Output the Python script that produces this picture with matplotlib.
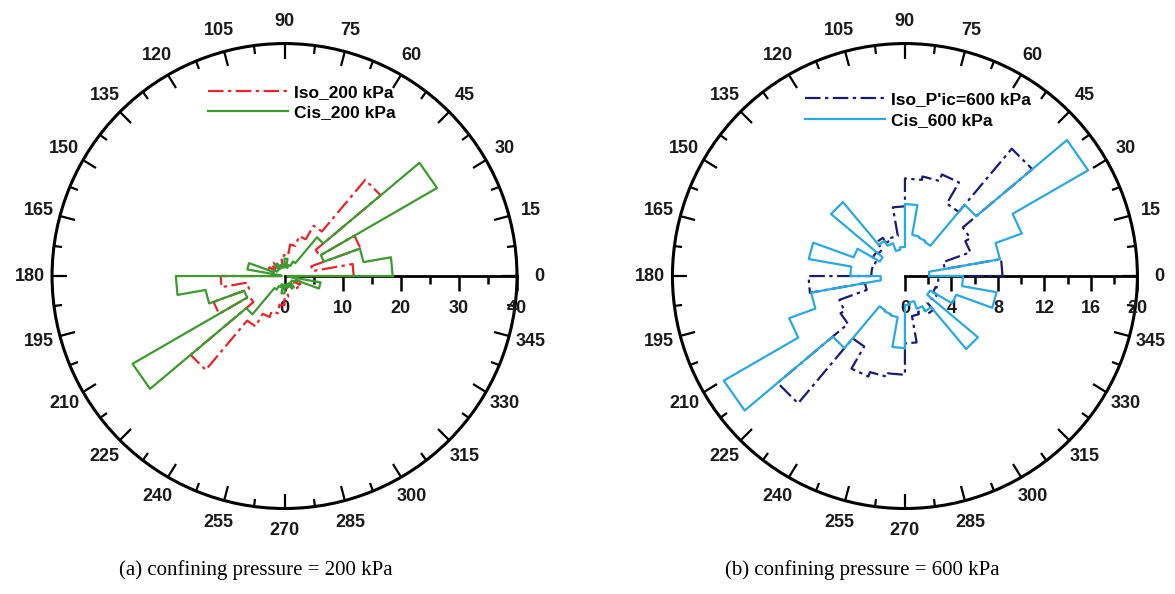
import numpy as np
import matplotlib.pyplot as plt

plt.rcParams["font.family"] = ["Liberation Sans", "DejaVu Sans"]

# 10-degree orientation bins (start angle of each bin, degrees)
bin_start = np.arange(0, 360, 10)
bin_width = 10

# (a) confining pressure = 200 kPa  (frequency, %)
iso_200 = [11.9, 4.9, 13.9, 7.0, 21.6, 10.0, 7.3, 5.5, 4.0, 3.5, 2.0, 1.5, 2.0, 3.0, 2.0, 3.0, 2.0, 0.8,
           11.0, 6.5, 13.0, 7.0, 21.1, 10.0, 7.5, 6.5, 5.0, 3.6, 2.0, 1.5, 2.0, 3.0, 2.0, 3.0, 2.0, 0.8]
cis_200 = [18.6, 13.8, 7.2, 30.3, 8.7, 2.9, 2.0, 1.5, 3.0, 1.5, 2.0, 1.5, 2.5, 1.5, 1.5, 2.0, 6.5, 0.5,
           18.7, 13.8, 7.4, 30.2, 8.6, 2.7, 2.0, 1.5, 3.0, 1.5, 2.0, 1.5, 2.5, 1.5, 1.5, 2.0, 6.3, 0.5]

# (b) confining pressure = 600 kPa
iso_600 = [8.4, 3.5, 6.0, 6.5, 14.3, 7.2, 9.3, 8.7, 8.4, 6.0, 3.5, 3.3, 3.8, 3.0, 3.2, 2.8, 2.9, 2.9,
           8.3, 3.5, 6.0, 6.4, 14.3, 7.0, 9.2, 8.8, 8.5, 5.8, 3.5, 3.3, 3.8, 3.0, 3.2, 2.8, 2.9, 2.9]
cis_600 = [2.1, 8.3, 10.7, 18.2, 8.0, 3.4, 3.5, 3.6, 6.2, 2.5, 2.3, 3.0, 3.5, 8.3, 2.5, 4.7, 8.4, 4.7,
           2.1, 8.2, 10.6, 18.0, 8.1, 3.4, 3.5, 3.6, 6.2, 2.5, 2.3, 3.0, 3.5, 8.2, 2.5, 4.7, 8.0, 5.0]

panels = [
    dict(series=[(iso_200, "Iso_200 kPa", "#e3262a", (0, (7, 2, 1.5, 2))),
                 (cis_200, "Cis_200 kPa", "#3c9a2e", "-")],
         rmax=40, rmajor=[0, 10, 20, 30, 40], rminor=[5, 15, 25, 35],
         rlabels=["0", "10", "20", "30", "40"],
         rect=[0.0443, 0.1439, 0.3957, 0.7828],
         legend_xy=(208 / 1175, 1 - 102.5 / 594),
         caption="(a) confining pressure = 200 kPa", cap_x=256 / 1175),
    dict(series=[(iso_600, "Iso_P'ic=600 kPa", "#1c1c6e", (0, (7, 2, 1.5, 2))),
                 (cis_600, "Cis_600 kPa", "#2aa8e0", "-")],
         rmax=20, rmajor=[0, 4, 8, 12, 16, 20], rminor=[2, 6, 10, 14, 18],
         rlabels=["0", "4", "8", "12", "16", "20"],
         rect=[0.5723, 0.1439, 0.3957, 0.7828],
         legend_xy=(805 / 1175, 1 - 110 / 594),
         caption="(b) confining pressure = 600 kPa", cap_x=862 / 1175),
]

fig = plt.figure(figsize=(11.75, 5.94), dpi=100)

for p in panels:
    ax = fig.add_axes(p["rect"], projection="polar")
    ax.set_theta_zero_location("E")
    ax.set_theta_direction(1)
    ax.set_ylim(0, p["rmax"])
    ax.grid(False)
    ax.set_yticks([])

    # angular ticks on the outer circle, pointing inwards
    ax.set_xticks(np.deg2rad(np.arange(0, 360, 15)))
    ax.set_xticklabels([str(a) for a in range(0, 360, 15)],
                       fontsize=13, fontweight="bold", color="#1a1a1a")
    ax.set_xticks(np.deg2rad(np.arange(7.5, 360, 15)), minor=True)
    ax.tick_params(axis="x", which="both", top=True, bottom=False, direction="in")
    ax.tick_params(axis="x", which="major", length=11, width=1.6, pad=9)
    ax.tick_params(axis="x", which="minor", length=6, width=1.6)
    ax.spines["polar"].set_linewidth(2.2)

    # radial axis along 0 degrees
    ax.plot([0, 0], [0, p["rmax"]], color="black", lw=2, zorder=1, clip_on=False)
    ax.plot(np.zeros(len(p["rmajor"])), p["rmajor"], ls="none", marker=3,
            ms=11, mew=1.8, color="black", zorder=1, clip_on=False)
    ax.plot(np.zeros(len(p["rminor"])), p["rminor"], ls="none", marker=3,
            ms=6, mew=1.8, color="black", zorder=1, clip_on=False)
    for r, lbl in zip(p["rmajor"], p["rlabels"]):
        ax.annotate(lbl, (0, r), xytext=(0, -17), textcoords="offset points",
                    ha="center", va="top", fontsize=13, fontweight="bold", color="#1a1a1a")

    # rose outlines
    for vals, label, color, ls in p["series"]:
        th, rr = [], []
        for a, v in zip(bin_start, vals):
            th += [np.deg2rad(a), np.deg2rad(a + bin_width)]
            rr += [v, v]
        th.append(th[0])
        rr.append(rr[0])
        ax.plot(th, rr, color=color, ls=ls, lw=1.6, label=label, zorder=3)

    fig.legend(*ax.get_legend_handles_labels(), loc="center left",
               bbox_to_anchor=p["legend_xy"], frameon=False, borderpad=0,
               borderaxespad=0, handlelength=4.6, handletextpad=0.35,
               labelspacing=0.3, prop=dict(size=12.5, weight="bold"))

    fig.text(p["cap_x"], 1 - 570 / 594, p["caption"], ha="center", va="center",
             family="Liberation Serif", fontsize=15)

fig.savefig("out.png", dpi=100)
